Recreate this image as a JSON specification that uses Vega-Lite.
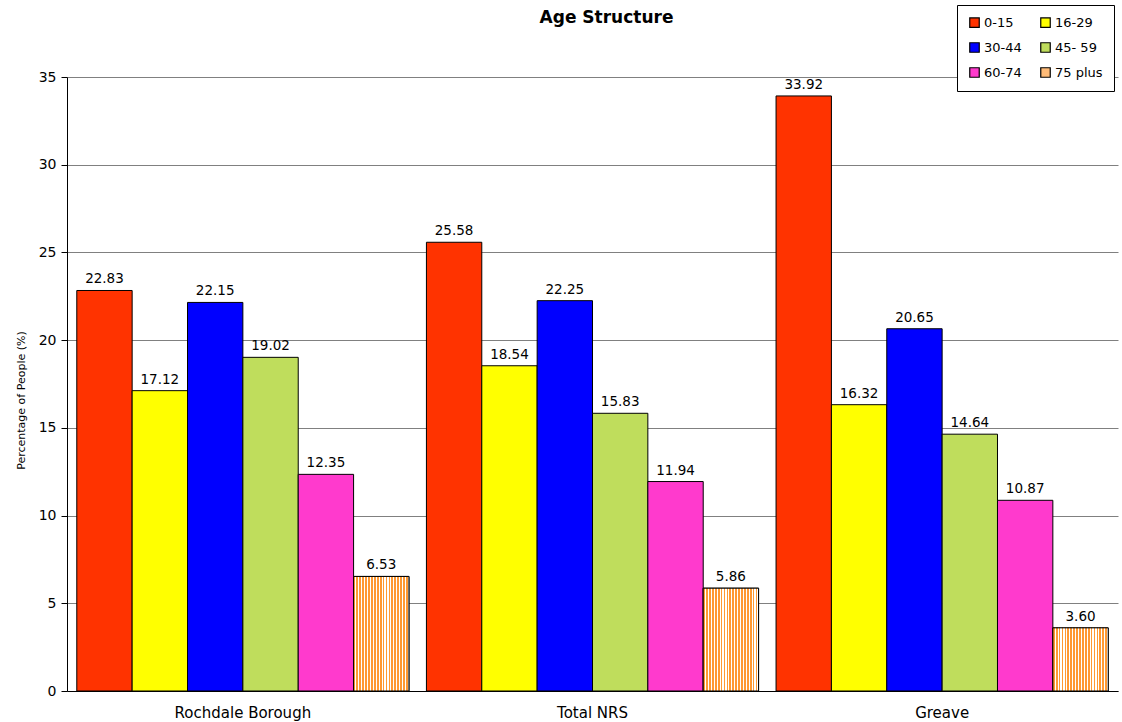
{
  "$schema": "https://vega.github.io/schema/vega-lite/v6.json",
  "width": 1051,
  "height": 614,
  "autosize": {"type": "none"},
  "padding": {"left": 67, "top": 77, "right": 4, "bottom": 31},
  "background": "white",
  "title": {"text": "Age Structure", "font": "DejaVu Sans", "fontSize": 17, "fontWeight": "bold", "anchor": "middle", "frame": "group", "dx": 14, "offset": -22, "color": "black"},
  "config": {"view": {"stroke": null}, "font": "DejaVu Sans"},
  "data": {"values": [
    {"area": "Rochdale Borough", "age": "0-15", "pct": 22.83},
    {"area": "Rochdale Borough", "age": "16-29", "pct": 17.12},
    {"area": "Rochdale Borough", "age": "30-44", "pct": 22.15},
    {"area": "Rochdale Borough", "age": "45- 59", "pct": 19.02},
    {"area": "Rochdale Borough", "age": "60-74", "pct": 12.35},
    {"area": "Rochdale Borough", "age": "75 plus", "pct": 6.53},
    {"area": "Total NRS", "age": "0-15", "pct": 25.58},
    {"area": "Total NRS", "age": "16-29", "pct": 18.54},
    {"area": "Total NRS", "age": "30-44", "pct": 22.25},
    {"area": "Total NRS", "age": "45- 59", "pct": 15.83},
    {"area": "Total NRS", "age": "60-74", "pct": 11.94},
    {"area": "Total NRS", "age": "75 plus", "pct": 5.86},
    {"area": "Greave", "age": "0-15", "pct": 33.92},
    {"area": "Greave", "age": "16-29", "pct": 16.32},
    {"area": "Greave", "age": "30-44", "pct": 20.65},
    {"area": "Greave", "age": "45- 59", "pct": 14.64},
    {"area": "Greave", "age": "60-74", "pct": 10.87},
    {"area": "Greave", "age": "75 plus", "pct": 3.60}
  ]},
  "encoding": {
    "x": {"field": "area", "type": "nominal", "sort": ["Rochdale Borough", "Total NRS", "Greave"],
      "scale": {"paddingInner": 0.05, "paddingOuter": 0.028},
      "axis": {"title": null, "labelAngle": 0, "labelFont": "DejaVu Sans", "labelFontSize": 15, "labelColor": "black", "domainColor": "black", "ticks": false, "labelPadding": 14}},
    "xOffset": {"field": "age", "type": "nominal", "sort": ["0-15", "16-29", "30-44", "45- 59", "60-74", "75 plus"], "scale": {"paddingInner": 0, "paddingOuter": 0}},
    "y": {"field": "pct", "type": "quantitative",
      "scale": {"domain": [0, 35], "nice": false},
      "axis": {"title": "Percentage of People (%)", "titleFont": "DejaVu Sans", "titleFontSize": 11, "titleFontWeight": "normal", "titleColor": "black", "titlePadding": 12, "titleY": 323,
        "values": [0, 5, 10, 15, 20, 25, 30, 35], "labelFont": "DejaVu Sans", "labelFontSize": 14, "labelColor": "black", "labelPadding": 5,
        "grid": true, "gridColor": "#808080", "gridWidth": 1, "domainColor": "black", "tickColor": "black", "tickSize": 6}}
  },
  "layer": [
    {
      "mark": {"type": "bar", "stroke": "black", "strokeWidth": 1},
      "encoding": {
        "color": {"field": "age", "type": "nominal", "sort": ["0-15", "16-29", "30-44", "45- 59", "60-74", "75 plus"],
          "scale": {"domain": ["0-15", "16-29", "30-44", "45- 59", "60-74", "75 plus"], "range": ["#ff3300", "#ffff00", "#0000ff", "#bfdd5c", "#ff3acd", "#ffbb77"]},
          "legend": {"title": null, "orient": "none", "legendX": 890, "legendY": -72, "columns": 2, "direction": "horizontal", "columnPadding": 16, "rowPadding": 10,
            "symbolType": "square", "symbolSize": 90, "symbolStrokeColor": "black", "symbolStrokeWidth": 1.2,
            "labelFont": "DejaVu Sans", "labelFontSize": 13, "labelColor": "black", "labelOffset": 3,
            "strokeColor": "black", "padding": 11, "fillColor": "white"}}
      }
    },
    {
      "transform": [{"filter": "datum.age === '75 plus'"}],
      "mark": {"type": "bar", "stroke": "black", "strokeWidth": 1,
        "fill": {"gradient": "linear", "x1": 0, "y1": 0, "x2": 1, "y2": 0, "stops": [
          {"offset": 0, "color": "#ff9933"}, {"offset": 0.0316, "color": "#ff9933"}, {"offset": 0.0316, "color": "#ffffff"}, {"offset": 0.0526, "color": "#ffffff"},
          {"offset": 0.0526, "color": "#ff9933"}, {"offset": 0.0842, "color": "#ff9933"}, {"offset": 0.0842, "color": "#ffffff"}, {"offset": 0.1053, "color": "#ffffff"},
          {"offset": 0.1053, "color": "#ff9933"}, {"offset": 0.1368, "color": "#ff9933"}, {"offset": 0.1368, "color": "#ffffff"}, {"offset": 0.1579, "color": "#ffffff"},
          {"offset": 0.1579, "color": "#ff9933"}, {"offset": 0.1895, "color": "#ff9933"}, {"offset": 0.1895, "color": "#ffffff"}, {"offset": 0.2105, "color": "#ffffff"},
          {"offset": 0.2105, "color": "#ff9933"}, {"offset": 0.2421, "color": "#ff9933"}, {"offset": 0.2421, "color": "#ffffff"}, {"offset": 0.2632, "color": "#ffffff"},
          {"offset": 0.2632, "color": "#ff9933"}, {"offset": 0.2947, "color": "#ff9933"}, {"offset": 0.2947, "color": "#ffffff"}, {"offset": 0.3158, "color": "#ffffff"},
          {"offset": 0.3158, "color": "#ff9933"}, {"offset": 0.3474, "color": "#ff9933"}, {"offset": 0.3474, "color": "#ffffff"}, {"offset": 0.3684, "color": "#ffffff"},
          {"offset": 0.3684, "color": "#ff9933"}, {"offset": 0.4000, "color": "#ff9933"}, {"offset": 0.4000, "color": "#ffffff"}, {"offset": 0.4211, "color": "#ffffff"},
          {"offset": 0.4211, "color": "#ff9933"}, {"offset": 0.4526, "color": "#ff9933"}, {"offset": 0.4526, "color": "#ffffff"}, {"offset": 0.4737, "color": "#ffffff"},
          {"offset": 0.4737, "color": "#ff9933"}, {"offset": 0.5053, "color": "#ff9933"}, {"offset": 0.5053, "color": "#ffffff"}, {"offset": 0.5263, "color": "#ffffff"},
          {"offset": 0.5263, "color": "#ff9933"}, {"offset": 0.5579, "color": "#ff9933"}, {"offset": 0.5579, "color": "#ffffff"}, {"offset": 0.5789, "color": "#ffffff"},
          {"offset": 0.5789, "color": "#ff9933"}, {"offset": 0.6105, "color": "#ff9933"}, {"offset": 0.6105, "color": "#ffffff"}, {"offset": 0.6316, "color": "#ffffff"},
          {"offset": 0.6316, "color": "#ff9933"}, {"offset": 0.6632, "color": "#ff9933"}, {"offset": 0.6632, "color": "#ffffff"}, {"offset": 0.6842, "color": "#ffffff"},
          {"offset": 0.6842, "color": "#ff9933"}, {"offset": 0.7158, "color": "#ff9933"}, {"offset": 0.7158, "color": "#ffffff"}, {"offset": 0.7368, "color": "#ffffff"},
          {"offset": 0.7368, "color": "#ff9933"}, {"offset": 0.7684, "color": "#ff9933"}, {"offset": 0.7684, "color": "#ffffff"}, {"offset": 0.7895, "color": "#ffffff"},
          {"offset": 0.7895, "color": "#ff9933"}, {"offset": 0.8211, "color": "#ff9933"}, {"offset": 0.8211, "color": "#ffffff"}, {"offset": 0.8421, "color": "#ffffff"},
          {"offset": 0.8421, "color": "#ff9933"}, {"offset": 0.8737, "color": "#ff9933"}, {"offset": 0.8737, "color": "#ffffff"}, {"offset": 0.8947, "color": "#ffffff"},
          {"offset": 0.8947, "color": "#ff9933"}, {"offset": 0.9263, "color": "#ff9933"}, {"offset": 0.9263, "color": "#ffffff"}, {"offset": 0.9474, "color": "#ffffff"},
          {"offset": 0.9474, "color": "#ff9933"}, {"offset": 0.9789, "color": "#ff9933"}, {"offset": 0.9789, "color": "#ffffff"}, {"offset": 1, "color": "#ffffff"}
        ]}}
    },
    {
      "mark": {"type": "text", "dy": -11, "font": "DejaVu Sans", "fontSize": 13.5, "color": "black"},
      "encoding": {"text": {"field": "pct", "type": "quantitative", "format": ".2f"}}
    }
  ]
}
